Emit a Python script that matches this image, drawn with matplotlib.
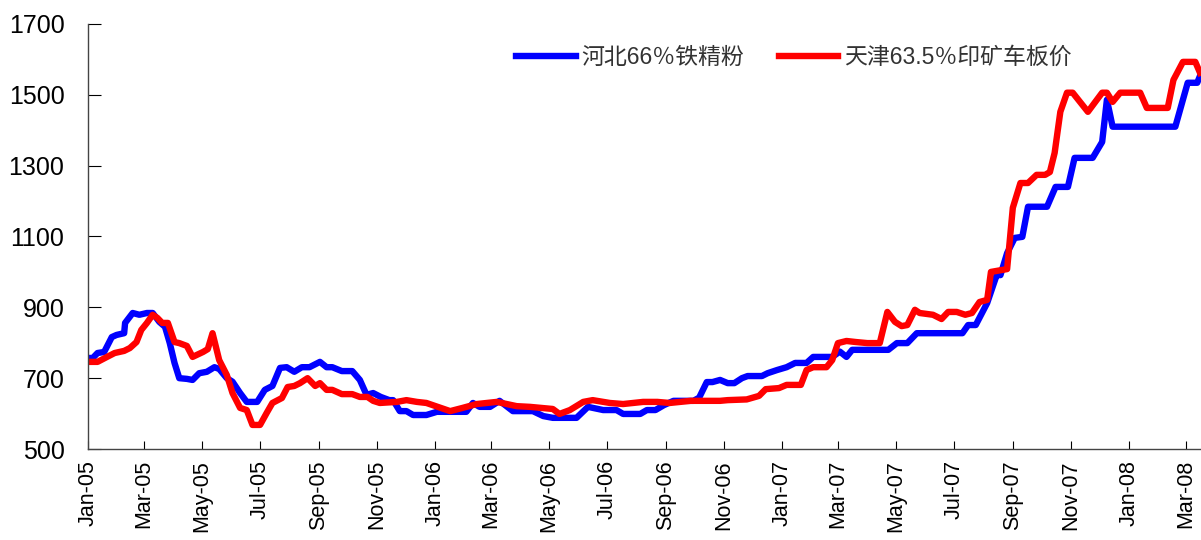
import matplotlib.pyplot as plt
import matplotlib.dates as mdates
import pandas as pd

plt.rcParams['font.family'] = ['Liberation Sans', 'Noto Sans CJK SC', 'DejaVu Sans']

# 河北66%铁精粉 (blue)
hebei_dates = ['2005-01-01', '2005-01-06', '2005-01-11', '2005-01-18', '2005-01-26', '2005-01-31',
               '2005-02-08', '2005-02-09', '2005-02-17', '2005-02-24', '2005-03-04', '2005-03-10',
               '2005-03-17', '2005-03-23', '2005-03-28', '2005-04-02', '2005-04-07', '2005-04-15',
               '2005-04-21', '2005-04-28', '2005-05-06', '2005-05-14', '2005-05-19', '2005-05-27',
               '2005-06-02', '2005-06-10', '2005-06-17', '2005-06-28', '2005-07-06', '2005-07-14',
               '2005-07-22', '2005-07-29', '2005-08-06', '2005-08-14', '2005-08-22', '2005-09-02',
               '2005-09-09', '2005-09-15', '2005-09-25', '2005-10-06', '2005-10-14', '2005-10-21',
               '2005-10-28', '2005-11-05', '2005-11-14', '2005-11-18', '2005-11-25', '2005-12-02',
               '2005-12-09', '2005-12-23', '2006-01-03', '2006-02-03', '2006-02-10', '2006-02-17',
               '2006-02-28', '2006-03-10', '2006-03-24', '2006-04-14', '2006-04-25', '2006-05-05',
               '2006-05-30', '2006-06-11', '2006-06-27', '2006-07-11', '2006-07-18', '2006-08-05',
               '2006-08-12', '2006-08-21', '2006-08-30', '2006-09-09', '2006-09-30', '2006-10-06',
               '2006-10-14', '2006-10-20', '2006-10-28', '2006-11-05', '2006-11-12', '2006-11-20',
               '2006-11-26', '2006-12-11', '2006-12-17', '2006-12-27', '2007-01-06', '2007-01-15',
               '2007-01-27', '2007-02-03', '2007-02-23', '2007-03-03', '2007-03-10', '2007-03-16',
               '2007-04-23', '2007-05-02', '2007-05-13', '2007-05-23', '2007-07-10', '2007-07-16',
               '2007-07-24', '2007-08-05', '2007-08-15', '2007-08-19', '2007-08-26', '2007-09-03',
               '2007-09-11', '2007-09-17', '2007-10-07', '2007-10-16', '2007-10-29', '2007-11-05',
               '2007-11-24', '2007-12-04', '2007-12-09', '2007-12-15', '2008-02-19', '2008-03-03',
               '2008-03-13', '2008-03-17']
hebei_vals = [757, 757, 771, 774, 816, 822,
              827, 856, 884, 879, 884, 884,
              859, 845, 799, 743, 700, 698,
              695, 714, 718, 731, 726, 700,
              690, 658, 633, 633, 667, 678,
              729, 731, 718, 731, 731, 746,
              731, 731, 720, 720, 695, 653,
              658, 647, 638, 638, 607, 607,
              596, 596, 605, 605, 630, 619,
              619, 636, 607, 607, 593, 588,
              588, 619, 610, 610, 599, 599,
              610, 610, 624, 636, 636, 645,
              689, 689, 695, 686, 686, 700,
              706, 706, 714, 723, 731, 743,
              743, 760, 760, 775, 760, 780,
              780, 799, 799, 827, 827, 850,
              850, 912, 991, 991, 1053, 1096,
              1099, 1184, 1184, 1240, 1240, 1322,
              1322, 1367, 1486, 1410, 1410, 1534,
              1534, 1560]

# 天津63.5%印矿车板价 (red)
tianjin_dates = ['2005-01-01', '2005-01-11', '2005-01-21', '2005-01-29', '2005-02-08', '2005-02-14',
                 '2005-02-21', '2005-02-26', '2005-03-04', '2005-03-10', '2005-03-15', '2005-03-20',
                 '2005-03-26', '2005-04-02', '2005-04-07', '2005-04-15', '2005-04-21', '2005-05-02',
                 '2005-05-07', '2005-05-12', '2005-05-19', '2005-05-27', '2005-06-02', '2005-06-10',
                 '2005-06-17', '2005-06-23', '2005-07-01', '2005-07-08', '2005-07-14', '2005-07-24',
                 '2005-07-30', '2005-08-06', '2005-08-12', '2005-08-20', '2005-08-28', '2005-09-02',
                 '2005-09-09', '2005-09-15', '2005-09-25', '2005-10-06', '2005-10-14', '2005-10-22',
                 '2005-10-28', '2005-11-04', '2005-11-22', '2005-12-02', '2005-12-13', '2005-12-23',
                 '2006-01-17', '2006-01-30', '2006-02-14', '2006-03-07', '2006-03-28', '2006-04-11',
                 '2006-05-05', '2006-05-12', '2006-05-23', '2006-06-06', '2006-06-16', '2006-07-04',
                 '2006-07-18', '2006-08-08', '2006-08-23', '2006-09-05', '2006-09-27', '2006-10-28',
                 '2006-11-05', '2006-11-25', '2006-12-08', '2006-12-15', '2006-12-29', '2007-01-06',
                 '2007-01-21', '2007-01-27', '2007-02-03', '2007-02-17', '2007-02-23', '2007-03-01',
                 '2007-03-10', '2007-03-20', '2007-04-01', '2007-04-14', '2007-04-22', '2007-04-30',
                 '2007-05-07', '2007-05-13', '2007-05-21', '2007-05-26', '2007-06-09', '2007-06-18',
                 '2007-06-25', '2007-07-04', '2007-07-13', '2007-07-20', '2007-07-28', '2007-08-05',
                 '2007-08-09', '2007-08-26', '2007-09-01', '2007-09-09', '2007-09-17', '2007-09-26',
                 '2007-10-05', '2007-10-10', '2007-10-15', '2007-10-21', '2007-10-28', '2007-11-03',
                 '2007-11-19', '2007-12-04', '2007-12-09', '2007-12-15', '2007-12-23', '2008-01-13',
                 '2008-01-20', '2008-02-11', '2008-02-17', '2008-02-27', '2008-03-11', '2008-03-16']
tianjin_vals = [746, 746, 760, 771, 777, 785,
                802, 836, 856, 879, 870, 856,
                856, 802, 799, 791, 760, 774,
                782, 827, 751, 709, 658, 616,
                610, 568, 568, 602, 630, 644,
                675, 678, 686, 700, 678, 686,
                667, 667, 655, 655, 647, 647,
                636, 630, 633, 638, 633, 630,
                607, 616, 627, 633, 621, 619,
                613, 599, 610, 633, 638, 630,
                627, 633, 633, 630, 636, 636,
                638, 640, 650, 669, 672, 681,
                681, 723, 731, 731, 751, 799,
                805, 802, 799, 799, 887, 859,
                847, 850, 893, 884, 879, 867,
                887, 887, 879, 884, 915, 921,
                1000, 1008, 1181, 1251, 1251, 1274,
                1274, 1282, 1336, 1452, 1506, 1506,
                1452, 1506, 1506, 1480, 1506, 1506,
                1463, 1463, 1542, 1593, 1593, 1562]

tick_dates = pd.date_range('2005-01-01', '2008-03-01', freq='2MS')
y_ticks = [500, 700, 900, 1100, 1300, 1500, 1700]

fig = plt.figure(figsize=(12.01, 5.4), dpi=100)
ax = fig.add_axes([0.0733, 0.1685, 0.9267, 0.7871])

ax.plot(pd.to_datetime(hebei_dates), hebei_vals, color='#0000ff', lw=4.6,
        solid_joinstyle='round', label='河北66％铁精粉')
ax.plot(pd.to_datetime(tianjin_dates), tianjin_vals, color='#ff0000', lw=4.6,
        solid_joinstyle='round', label='天津63.5％印矿车板价')

ax.set_xlim(pd.Timestamp('2005-01-01'), pd.Timestamp('2008-03-17'))
ax.set_ylim(500, 1700)
ax.set_yticks(y_ticks)
ax.set_xticks(tick_dates)
ax.xaxis.set_major_formatter(mdates.DateFormatter('%b-%y'))
ax.tick_params(axis='x', rotation=90, labelsize=15.5, direction='in', length=6, pad=8)
ax.tick_params(axis='y', labelsize=18, direction='in', length=9, pad=17)

for s in ['top', 'right']:
    ax.spines[s].set_visible(False)
for s in ['left', 'bottom']:
    ax.spines[s].set_color('#444444')
    ax.spines[s].set_linewidth(1.0)

leg = fig.legend(loc='center right', bbox_to_anchor=(0.9, 0.894), ncol=2, frameon=False,
                 fontsize=16.5, handlelength=2.6, handletextpad=0.25, columnspacing=1.5,
                 borderaxespad=0)
for t in leg.get_texts():
    t.set_color('#333333')

fig.savefig('out.png', dpi=100)
